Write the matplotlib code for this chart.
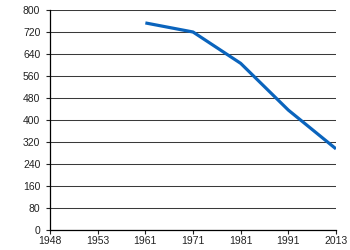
import matplotlib
matplotlib.use('Agg')
import matplotlib.pyplot as plt

# категорії по осі x (рівномірно розставлені)
years = ['1948', '1953', '1961', '1971', '1981', '1991', '2013']
# значення з графіка (для 1948 і 1953 даних немає)
values = [None, None, 753, 720, 606, 436, 295]

y_ticks = list(range(0, 801, 80))

plt.rcParams['font.family'] = ['Liberation Sans', 'DejaVu Sans']

fig = plt.figure(figsize=(3.5, 2.5), dpi=100)
ax = fig.add_axes([0.143, 0.08, 0.817, 0.88])

xs = [i for i, v in enumerate(values) if v is not None]
ys = [v for v in values if v is not None]
ax.plot(xs, ys, color='#0a64bd', linewidth=2.3, solid_joinstyle='round', solid_capstyle='butt')

ax.set_xlim(0, len(years) - 1)
ax.set_ylim(0, 800)
ax.set_xticks(range(len(years)))
ax.set_xticklabels(years)
ax.set_yticks(y_ticks)

ax.grid(axis='y', color='#3a3a3a', linewidth=0.75)
ax.set_axisbelow(True)
for s in ['top', 'right']:
    ax.spines[s].set_visible(False)
ax.spines['left'].set_linewidth(0.9)
ax.spines['bottom'].set_linewidth(0.9)
ax.tick_params(axis='both', labelsize=7.5, length=3, width=0.8, colors='#222222')
ax.tick_params(axis='y', pad=4)
ax.tick_params(axis='x', pad=1)

fig.savefig('out.png', dpi=100)
